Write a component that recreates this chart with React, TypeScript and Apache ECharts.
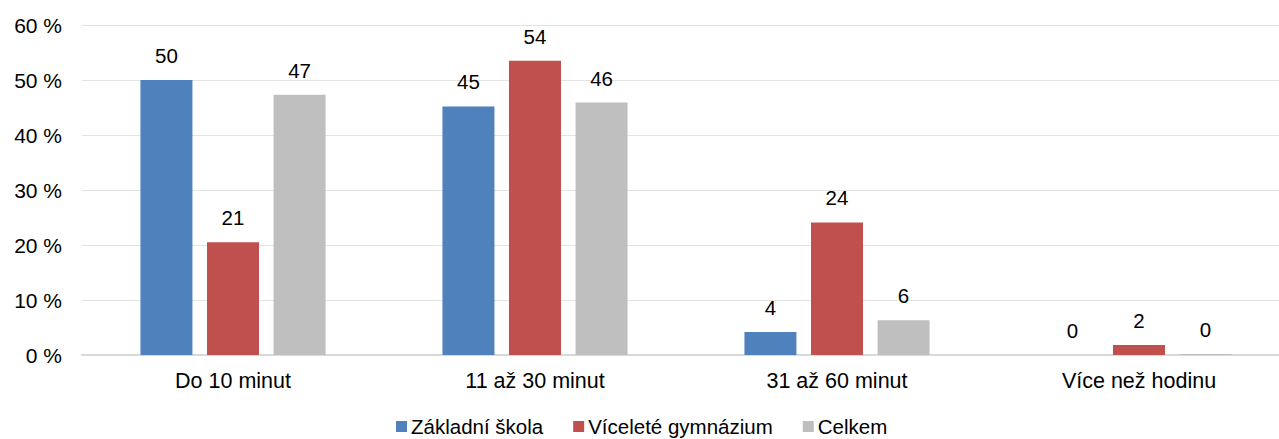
import React, { useEffect, useRef } from "react";
import * as echarts from "echarts";

const categories = ["Do 10 minut", "11 až 30 minut", "31 až 60 minut", "Více než hodinu"];
const seriesNames = ["Základní škola", "Víceleté gymnázium", "Celkem"];
const zakladni = [50.0, 45.2, 4.2, 0.0];
const gymnazium = [20.5, 53.5, 24.1, 1.8];
const celkem = [47.3, 45.9, 6.3, 0.2];
const colors = ["#4F81BD", "#C0504D", "#BFBFBF"];
const yTicks = { min: 0, max: 60, interval: 10 };

export default function App() {
  const ref = useRef<HTMLDivElement>(null);
  useEffect(() => {
    if (!ref.current) return;
    const chart = echarts.init(ref.current, undefined, { renderer: "svg" });
    const font = "Liberation Sans, Arial, sans-serif";
    const data = [zakladni, gymnazium, celkem];
    chart.setOption({
      animation: false,
      textStyle: { fontFamily: font },
      grid: { left: 82, right: 0, top: 25, bottom: 84, containLabel: false },
      legend: {
        bottom: -3,
        left: 391,
        itemWidth: 11,
        itemHeight: 11,
        itemGap: 30,
        icon: "rect",
        textStyle: { fontSize: 20.5, color: "#000", fontFamily: font, padding: [0, 0, 0, -1] },
        data: seriesNames,
      },
      xAxis: {
        type: "category",
        data: categories,
        axisLine: { lineStyle: { color: "#D9D9D9", width: 2 } },
        axisTick: { show: false },
        axisLabel: { fontSize: 21.5, color: "#000", margin: 15, fontFamily: font },
      },
      yAxis: {
        type: "value",
        min: yTicks.min,
        max: yTicks.max,
        interval: yTicks.interval,
        axisLine: { show: false },
        axisTick: { show: false },
        splitLine: { lineStyle: { color: "#E3E3E3", width: 1 } },
        axisLabel: {
          fontSize: 21,
          color: "#000",
          margin: 20,
          fontFamily: font,
          formatter: (v: number) => `${v} %`,
        },
      },
      series: seriesNames.map((name, i) => ({
        name,
        type: "bar",
        data: data[i],
        barWidth: 52,
        barGap: "28%",
        itemStyle: { color: colors[i] },
        label: {
          show: true,
          position: "top",
          distance: 14,
          fontSize: 20.5,
          color: "#000",
          fontFamily: font,
          formatter: (p: any) => `${Math.round(p.value)}`,
        },
      })),
    });
    return () => chart.dispose();
  }, []);
  return (
    <div
      style={{
        position: "absolute",
        left: 0,
        top: 0,
        width: 1279,
        height: 439,
        overflow: "hidden",
      }}
    >
      <div ref={ref} style={{ width: 1290, height: 439 }} />
    </div>
  );
}
